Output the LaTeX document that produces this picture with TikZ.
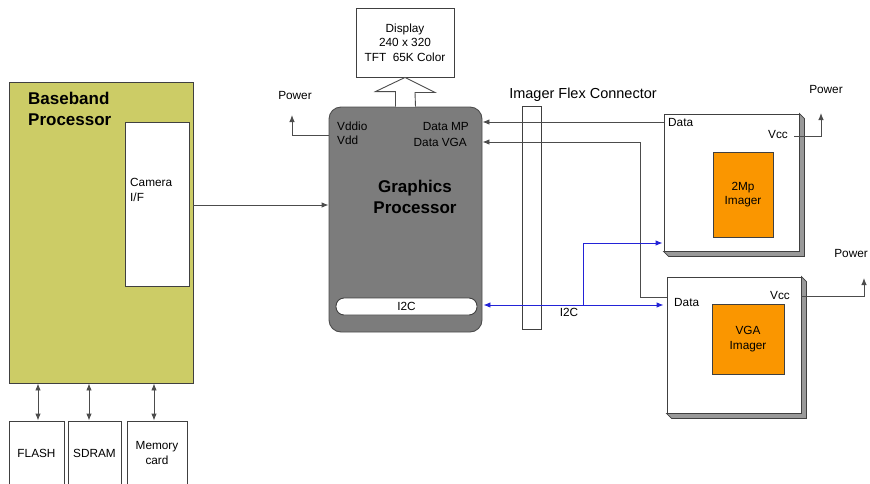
\documentclass[tikz,border=0pt]{standalone}
\usepackage{fontspec}
\setmainfont{Liberation Sans}
\usepackage{tikz}
\usetikzlibrary{calc,arrows.meta}
\definecolor{basebandfill}{RGB}{204,204,102}
\definecolor{gpufill}{RGB}{124,124,124}
\definecolor{sensorfill}{RGB}{250,150,0}
\definecolor{busblue}{RGB}{35,35,215}
\tikzset{>={Latex[length=7pt,width=5.5pt]},
  blk/.style={draw=black!75,line width=0.9pt,fill=white,inner sep=0pt,align=center,font=\fontsize{11.8}{14.5}\selectfont},
  lbl/.style={inner sep=0pt,align=left,font=\fontsize{11.8}{14.5}\selectfont},
  title/.style={inner sep=0pt,align=left,font=\fontsize{17}{21}\selectfont\bfseries},
  wire/.style={draw=black!70,line width=0.9pt},
  bus/.style={draw=busblue,line width=0.9pt}}
\newcommand*{\Bevel}[1]{%
  \draw[draw=black!75,fill=black!40,line width=0.8pt] (#1.north east) -- ($(#1.north east)+(5,5)$) -- ($(#1.south east)+(5,5)$)
    -- ($(#1.south west)+(5,5)$) -- (#1.south west) -- (#1.south east) -- cycle;}

\begin{document}
\begin{tikzpicture}[x=1pt,y=-1pt]
\useasboundingbox (0,0) rectangle (870,483);
\clip (0,0) rectangle (870,483);

% baseband side
\node[blk,fill=basebandfill,minimum width=184,minimum height=301] (bb) at (101,232.5) {};
\node[title,anchor=west] (bbt) at (28,109) {Baseband\\Processor};
\node[blk,minimum width=64,minimum height=164] (camif) at (157,204) {};
\node[lbl,anchor=west] (camift) at (130,190) {Camera\\I/F};
\node[blk,minimum width=55,minimum height=64] (flash) at (36.5,453) {FLASH};
\node[blk,minimum width=53,minimum height=64] (sdram) at (94.5,453) {SDRAM};
\node[blk,minimum width=60,minimum height=64] (memcard) at (157,453) {Memory\\card};
\draw[wire,<->] ([xshift=1.5pt]flash.north) -- ([xshift=1.5pt]flash.north |- bb.south);
\draw[wire,<->] ([xshift=-5.5pt]sdram.north) -- ([xshift=-5.5pt]sdram.north |- bb.south);
\draw[wire,<->] ([xshift=-3pt]memcard.north) -- ([xshift=-3pt]memcard.north |- bb.south);

% graphics processor and display
\node[blk,minimum width=98,minimum height=69] (disp) at (405,42.5) {Display\\240 x 320\\TFT~~65K Color};
\node[draw=black!70,line width=0.9pt,fill=gpufill,rounded corners=12pt,minimum width=153,minimum height=225] (gp) at (405.5,219.5) {};
\node[title,align=center] (gpt) at (415,197) {Graphics\\Processor};
\node[blk,rounded corners=8pt,minimum width=141,minimum height=17] (i2c) at (406.5,306.5) {I2C};
\node[lbl,anchor=west] (vddio) at (337,126) {Vddio};
\node[lbl,anchor=west] (vdd) at (337,140) {Vdd};
\node[lbl,anchor=east] (dmp) at (469,126) {Data MP};
\node[lbl,anchor=east] (dvga) at (467,142) {Data VGA};
\draw[wire,fill=white] ([xshift=-10pt]gp.north) -- ++(0,-15) -- ++(-20,0) -- (disp.south)
  -- ++(30,15) -- ++(-20,0) -- ([xshift=10pt]gp.north);% hollow bus arrow
\coordinate (pwrl) at (292,115);
\node[lbl] (pwrlt) at (295,95) {Power};
\draw[wire,->] (gp.west |- 0,135) -| (pwrl);
\draw[wire,->] (bb.east |- 0,205) -- (gp.west |- 0,205);

% flex connector
\node[blk,minimum width=19,minimum height=223] (flex) at (531.5,217.5) {};
\node[lbl,font=\fontsize{14.5}{17}\selectfont] (flext) at (583,95) {Imager Flex Connector};

% 2Mp imager
\node[blk,minimum width=135,minimum height=137] (mp) at (731.5,182.5) {};
\Bevel{mp}
\node[blk,fill=sensorfill,minimum width=60,minimum height=85] (mpcore) at (743,194.5) {2Mp\\Imager};
\node[lbl,anchor=west] (mpdata) at (668,122) {Data};
\node[lbl,anchor=east] (mpvcc) at (788,134) {Vcc};
\coordinate (mppwr) at (821,113);
\node[lbl] (mppwrt) at (826,89) {Power};
\draw[wire,->] ([xshift=6pt,yshift=-2pt]mpvcc.east) -| (mppwr);

% VGA imager
\node[blk,minimum width=134,minimum height=136] (vga) at (734,345) {};
\Bevel{vga}
\node[blk,fill=sensorfill,minimum width=72,minimum height=70] (vgacore) at (748,339) {VGA\\Imager};
\node[lbl,anchor=west] (vgadata) at (674,302) {Data};
\node[lbl,anchor=east] (vgavcc) at (790,295) {Vcc};
\coordinate (vgapwr) at (864,278);
\node[lbl,anchor=east] (vgapwrt) at (868,253) {Power};
\draw[wire,->] (vga.east |- 0,296) -| (vgapwr);

% data lines
\draw[wire,->] (mp.west |- mpdata) -- (gp.east |- mpdata);
\draw[wire,->] (vga.west |- 0,297) -| (640,142) -- (gp.east |- dvga);

% i2c bus
\coordinate (tap) at (583,305);
\draw[bus,<->] ([xshift=6pt]i2c.east |- tap) -- ([xshift=-3pt]vga.west |- tap);
\draw[bus,->] (tap) |- ([xshift=-1pt]mp.west |- 0,243);
\node[lbl] (i2ct) at (569,312) {I2C};

\end{tikzpicture}
\end{document}
